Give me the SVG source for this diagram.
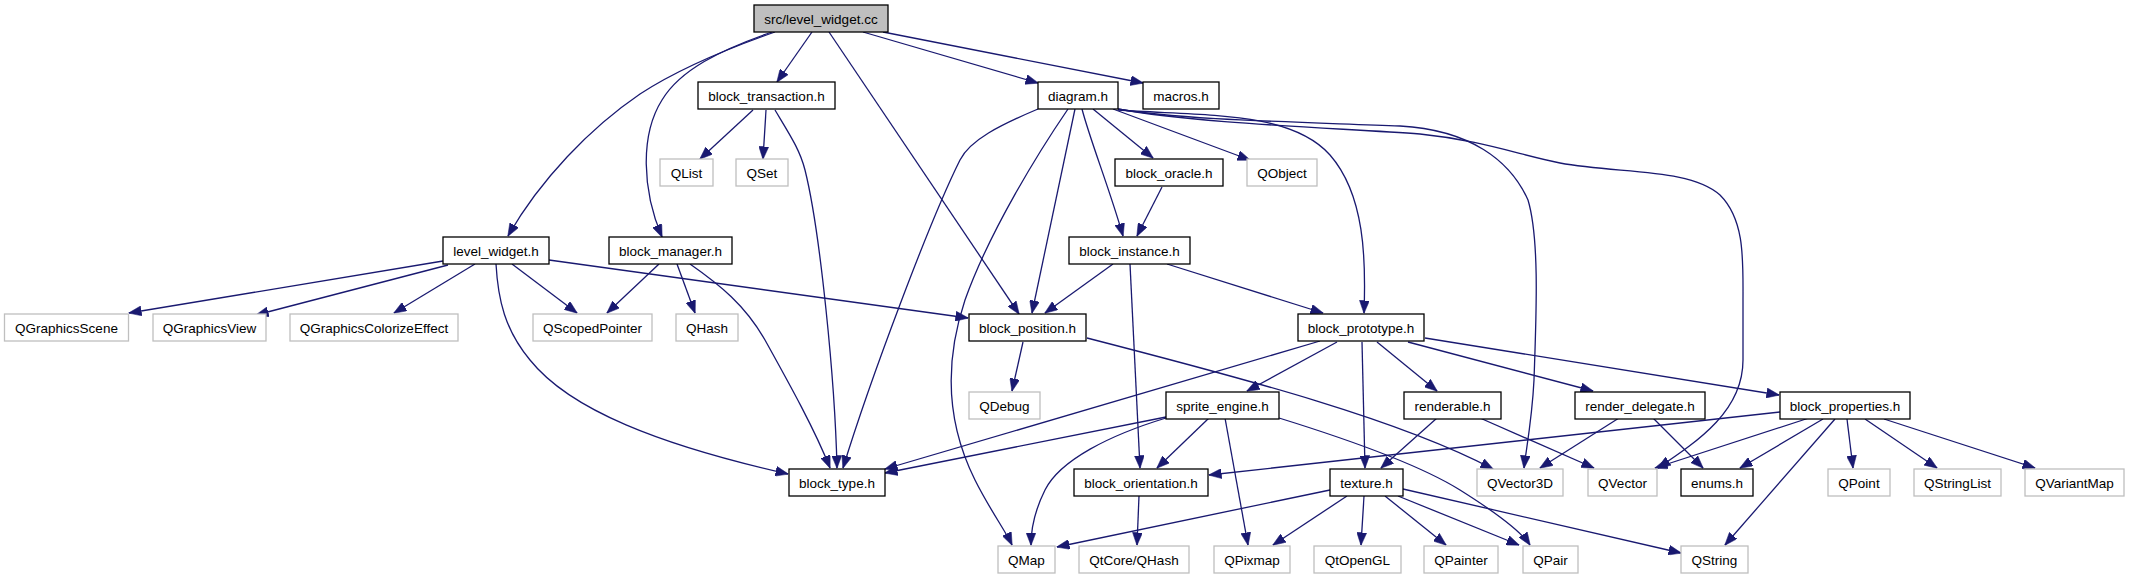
<svg xmlns="http://www.w3.org/2000/svg" width="2129" height="581" viewBox="0 0 2129 581">
<style>
rect{fill:#fff;stroke:#000;stroke-width:1.3}
.x rect{stroke:#bfbfbf}
.m rect{fill:#bfbfbf}
text{font-family:"Liberation Sans",Arial,sans-serif;font-size:13.5px;text-anchor:middle;fill:#000}
#edges path{fill:none;stroke:#191970;stroke-width:1.3;marker-end:url(#a)}
</style>
<defs>
<marker id="a" viewBox="0 0 13 10" refX="12.5" refY="5" markerWidth="13" markerHeight="10" orient="auto" markerUnits="userSpaceOnUse"><path d="M0,0 L13,5 L0,10 z" fill="#191970" stroke="#191970" stroke-width="0.5"/></marker>
</defs>
<rect x="0" y="0" width="2129" height="581" style="fill:#fff;stroke:none"/>
<g id="edges">
<path d="M775,32 C735,46 680,68 640,94 C590,128 540,180 508,236"/>
<path d="M772,32 C720,50 680,70 662,100 C640,135 642,190 662,237"/>
<path d="M812,32 L777,82"/>
<path d="M829,32 L1019,314"/>
<path d="M863,32 L1038,83"/>
<path d="M883,32 L1143,83"/>
<path d="M753,110 L700,159"/>
<path d="M766,110 L763,159"/>
<path d="M775,110 C790,135 800,150 805,170 C820,230 835,380 837,468"/>
<path d="M1038,109 C1000,125 970,140 960,160 C930,220 870,380 843,468"/>
<path d="M1068,109 C1040,150 990,230 965,300 C945,360 945,420 975,480 C990,510 1005,530 1012,545"/>
<path d="M1075,109 L1032,313"/>
<path d="M1082,109 C1090,140 1110,190 1123,236"/>
<path d="M1093,109 L1153,158"/>
<path d="M1113,109 L1250,160"/>
<path d="M1118,110 C1200,116 1290,110 1330,155 C1365,195 1366,260 1364,313"/>
<path d="M1118,109 C1180,120 1300,122 1400,126 C1470,130 1510,160 1528,200 C1540,240 1536,320 1534,380 C1532,420 1526,450 1524,468"/>
<path d="M1118,109 C1200,124 1340,128 1420,134 C1480,140 1520,155 1560,163 C1620,174 1690,168 1720,195 C1745,220 1743,260 1743,300 L1743,360 C1743,410 1700,440 1658,468"/>
<path d="M1162,187 L1137,236"/>
<path d="M443,261 L129,313"/>
<path d="M448,265 L256,315"/>
<path d="M475,264 L394,313"/>
<path d="M512,264 L577,313"/>
<path d="M549,260 L968,318"/>
<path d="M496,264 C498,300 505,330 530,360 C570,410 660,445 788,474"/>
<path d="M659,264 L607,313"/>
<path d="M677,264 L695,313"/>
<path d="M690,264 C720,285 745,305 765,340 C790,385 815,430 830,468"/>
<path d="M1113,264 L1045,313"/>
<path d="M1167,264 L1323,313"/>
<path d="M1130,264 L1140,468"/>
<path d="M1023,342 L1012,391"/>
<path d="M1087,338 C1250,380 1400,420 1493,469"/>
<path d="M1320,341 L885,469"/>
<path d="M1337,342 L1247,391"/>
<path d="M1362,342 L1365,468"/>
<path d="M1377,342 L1437,391"/>
<path d="M1408,342 L1593,391"/>
<path d="M1425,338 L1779,395"/>
<path d="M1166,417 L885,473"/>
<path d="M1166,418 C1110,435 1060,460 1045,490 C1035,510 1031,530 1031,545"/>
<path d="M1209,418 L1157,468"/>
<path d="M1225,418 L1248,545"/>
<path d="M1279,418 C1350,440 1420,465 1460,490 C1495,512 1520,530 1530,545"/>
<path d="M1437,418 L1381,468"/>
<path d="M1480,418 L1594,468"/>
<path d="M1619,418 L1540,468"/>
<path d="M1653,418 L1703,468"/>
<path d="M1780,412 L1209,475"/>
<path d="M1809,418 L1655,468"/>
<path d="M1823,419 L1740,468"/>
<path d="M1835,419 L1725,545"/>
<path d="M1847,419 L1853,468"/>
<path d="M1865,419 L1937,468"/>
<path d="M1884,419 L2035,468"/>
<path d="M1330,490 L1057,547"/>
<path d="M1347,496 L1273,545"/>
<path d="M1364,496 L1361,545"/>
<path d="M1385,496 L1446,545"/>
<path d="M1398,496 L1519,545"/>
<path d="M1403,489 L1681,553"/>
<path d="M1139,496 L1137,545"/>
</g>
<g id="n_main" class="m"><rect x="754" y="5" width="134" height="27"/><text x="821" y="23.5">src/level_widget.cc</text></g>
<g id="n_block_transaction"><rect x="698" y="82" width="137" height="27"/><text x="766.5" y="100.5">block_transaction.h</text></g>
<g id="n_diagram"><rect x="1038" y="82" width="80" height="27"/><text x="1078" y="100.5">diagram.h</text></g>
<g id="n_macros"><rect x="1143" y="82" width="76" height="27"/><text x="1181" y="100.5">macros.h</text></g>
<g id="n_QList" class="x"><rect x="660" y="159" width="53" height="27"/><text x="686.5" y="177.5">QList</text></g>
<g id="n_QSet" class="x"><rect x="736" y="159" width="52" height="27"/><text x="762" y="177.5">QSet</text></g>
<g id="n_block_oracle"><rect x="1115" y="159" width="108" height="27"/><text x="1169" y="177.5">block_oracle.h</text></g>
<g id="n_QObject" class="x"><rect x="1247" y="159" width="70" height="27"/><text x="1282" y="177.5">QObject</text></g>
<g id="n_level_widget"><rect x="443" y="237" width="106" height="27"/><text x="496" y="255.5">level_widget.h</text></g>
<g id="n_block_manager"><rect x="609" y="237" width="123" height="27"/><text x="670.5" y="255.5">block_manager.h</text></g>
<g id="n_block_instance"><rect x="1069" y="237" width="121" height="27"/><text x="1129.5" y="255.5">block_instance.h</text></g>
<g id="n_QGraphicsScene" class="x"><rect x="4.5" y="314" width="124" height="27"/><text x="66.5" y="332.5">QGraphicsScene</text></g>
<g id="n_QGraphicsView" class="x"><rect x="153" y="314" width="113" height="27"/><text x="209.5" y="332.5">QGraphicsView</text></g>
<g id="n_QGraphicsColorizeEffect" class="x"><rect x="290" y="314" width="168" height="27"/><text x="374" y="332.5">QGraphicsColorizeEffect</text></g>
<g id="n_QScopedPointer" class="x"><rect x="533" y="314" width="119" height="27"/><text x="592.5" y="332.5">QScopedPointer</text></g>
<g id="n_QHash" class="x"><rect x="676" y="314" width="62" height="27"/><text x="707" y="332.5">QHash</text></g>
<g id="n_block_position"><rect x="969" y="314" width="117" height="27"/><text x="1027.5" y="332.5">block_position.h</text></g>
<g id="n_block_prototype"><rect x="1298" y="314" width="126" height="27"/><text x="1361" y="332.5">block_prototype.h</text></g>
<g id="n_QDebug" class="x"><rect x="969" y="392" width="71" height="27"/><text x="1004.5" y="410.5">QDebug</text></g>
<g id="n_sprite_engine"><rect x="1166" y="392" width="113" height="27"/><text x="1222.5" y="410.5">sprite_engine.h</text></g>
<g id="n_renderable"><rect x="1404" y="392" width="97" height="27"/><text x="1452.5" y="410.5">renderable.h</text></g>
<g id="n_render_delegate"><rect x="1575" y="392" width="130" height="27"/><text x="1640" y="410.5">render_delegate.h</text></g>
<g id="n_block_properties"><rect x="1780" y="392" width="130" height="27"/><text x="1845" y="410.5">block_properties.h</text></g>
<g id="n_block_type"><rect x="789" y="469" width="96" height="27"/><text x="837" y="487.5">block_type.h</text></g>
<g id="n_block_orientation"><rect x="1074" y="469" width="134" height="27"/><text x="1141" y="487.5">block_orientation.h</text></g>
<g id="n_texture"><rect x="1330" y="469" width="73" height="27"/><text x="1366.5" y="487.5">texture.h</text></g>
<g id="n_QVector3D" class="x"><rect x="1477" y="469" width="86" height="27"/><text x="1520" y="487.5">QVector3D</text></g>
<g id="n_QVector" class="x"><rect x="1588" y="469" width="69" height="27"/><text x="1622.5" y="487.5">QVector</text></g>
<g id="n_enums"><rect x="1681" y="469" width="72" height="27"/><text x="1717" y="487.5">enums.h</text></g>
<g id="n_QPoint" class="x"><rect x="1828" y="469" width="62" height="27"/><text x="1859" y="487.5">QPoint</text></g>
<g id="n_QStringList" class="x"><rect x="1914" y="469" width="87" height="27"/><text x="1957.5" y="487.5">QStringList</text></g>
<g id="n_QVariantMap" class="x"><rect x="2025" y="469" width="99" height="27"/><text x="2074.5" y="487.5">QVariantMap</text></g>
<g id="n_QMap" class="x"><rect x="998" y="546" width="57" height="27"/><text x="1026.5" y="564.5">QMap</text></g>
<g id="n_QtCore_QHash" class="x"><rect x="1079" y="546" width="110" height="27"/><text x="1134" y="564.5">QtCore/QHash</text></g>
<g id="n_QPixmap" class="x"><rect x="1214" y="546" width="76" height="27"/><text x="1252" y="564.5">QPixmap</text></g>
<g id="n_QtOpenGL" class="x"><rect x="1314" y="546" width="87" height="27"/><text x="1357.5" y="564.5">QtOpenGL</text></g>
<g id="n_QPainter" class="x"><rect x="1424" y="546" width="74" height="27"/><text x="1461" y="564.5">QPainter</text></g>
<g id="n_QPair" class="x"><rect x="1523" y="546" width="55" height="27"/><text x="1550.5" y="564.5">QPair</text></g>
<g id="n_QString" class="x"><rect x="1681" y="546" width="67" height="27"/><text x="1714.5" y="564.5">QString</text></g>
</svg>
